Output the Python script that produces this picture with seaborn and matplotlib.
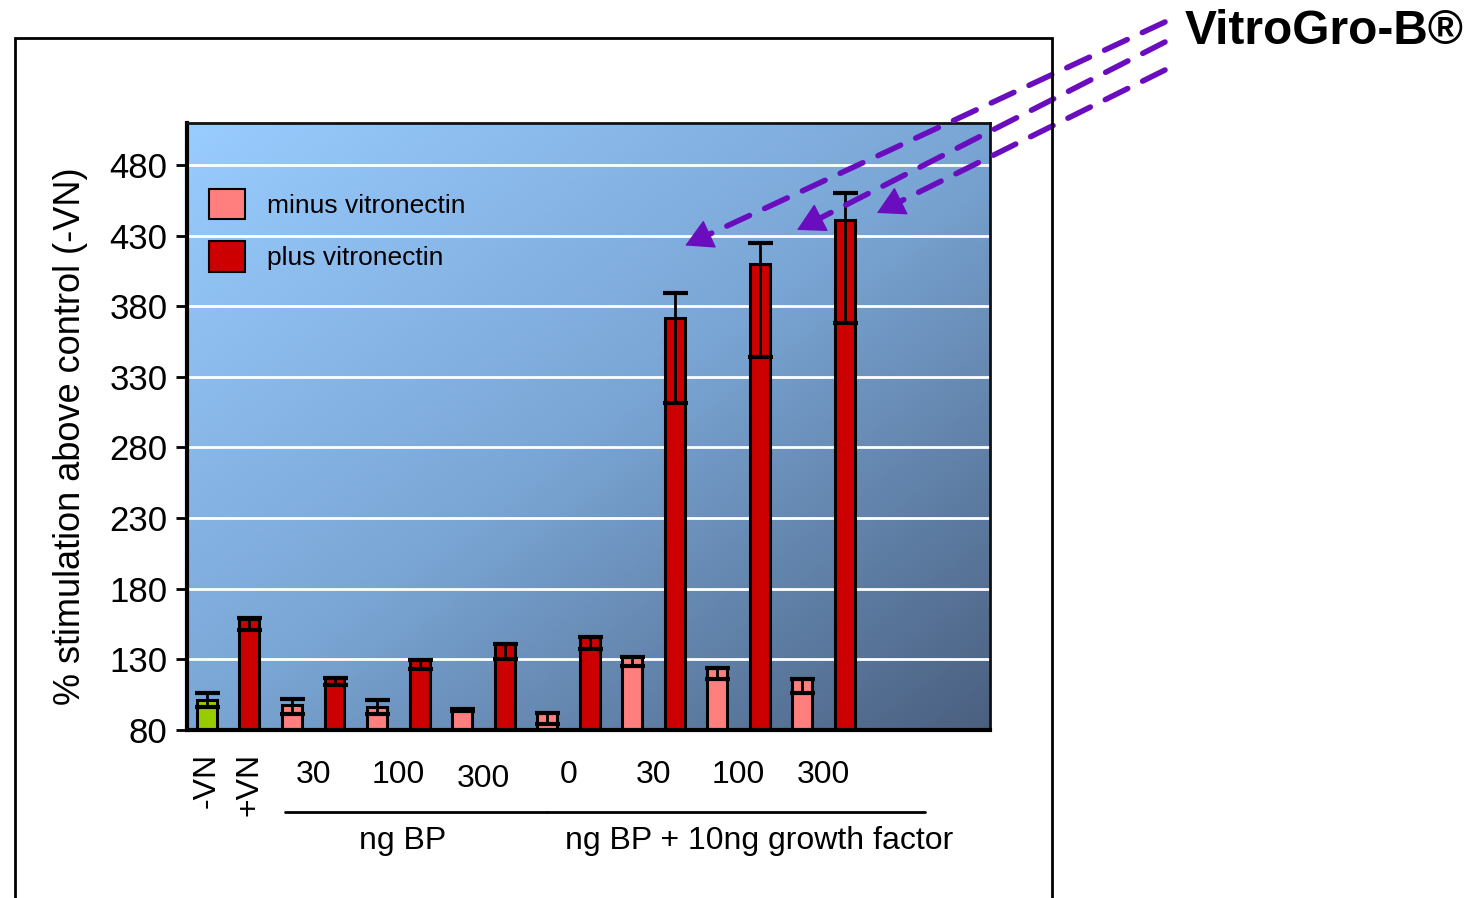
import numpy as np
import pandas as pd
import matplotlib
matplotlib.use("Agg")
import matplotlib.pyplot as plt
from matplotlib.patches import Rectangle, Patch
from matplotlib.colors import LinearSegmentedColormap
import seaborn as sns

# ---------------- data ----------------
bar_ids = ["-VN", "+VN",
           "BP30-", "BP30+", "BP100-", "BP100+", "BP300-", "BP300+",
           "GF0-", "GF0+", "GF30-", "GF30+", "GF100-", "GF100+", "GF300-", "GF300+"]
bar_tops = [101, 158.6, 98, 117, 96, 129.5, 94.5, 141, 92, 146, 132, 372, 124, 410, 116, 441]
err_low = [96, 151, 91, 112, 91, 123, 93.5, 130, 84, 137, 125, 311.5, 116, 344, 106, 368]
err_high = [106, 159, 102, 117, 101, 129.5, 95, 141, 92, 146, 132, 389.5, 124, 425, 116, 460]
bar_kind = ["ctrl", "plus", "minus", "plus", "minus", "plus", "minus", "plus",
            "minus", "plus", "minus", "plus", "minus", "plus", "minus", "plus"]

dose_labels = ["30", "100", "300", "0", "30", "100", "300"]
group_labels = ["ng BP", "ng BP + 10ng growth factor"]
legend_labels = ["minus vitronectin", "plus vitronectin"]
y_ticks = [80, 130, 180, 230, 280, 330, 380, 430, 480]
title_text = "VitroGro-B\u00ae"
y_label = "% stimulation above control (-VN)"

kind_colors = {"ctrl": "#99CC00", "minus": "#FF7F7F", "plus": "#CC0000"}

df = pd.DataFrame({"bar": bar_ids, "value": bar_tops, "kind": bar_kind})

# ---------------- figure ----------------
sns.set_theme(style="white")
plt.rcParams["font.family"] = ["Liberation Sans", "DejaVu Sans"]
plt.rcParams["text.color"] = "black"
plt.rcParams["axes.labelcolor"] = "black"
plt.rcParams["xtick.color"] = "black"
plt.rcParams["ytick.color"] = "black"

fig = plt.figure(figsize=(14.79, 8.98), dpi=100)
ax = fig.add_axes([187 / 1479, 1 - 730 / 898, (990 - 187) / 1479, (730 - 123) / 898])

# diagonal gradient background (light top-left -> dark bottom-right)
grad_cmap = LinearSegmentedColormap.from_list("bg", ["#99CCFF", "#7AA6D5", "#4A6080"])
gx, gy = np.meshgrid(np.linspace(0, 1, 300), np.linspace(0, 1, 300))
gval = (gx + gy) / 2
ax.imshow(gval, cmap=grad_cmap, extent=(-0.47, 18.42, 80, 509.7), origin="upper",
          aspect="auto", zorder=0, vmin=0, vmax=1)

palette = {b: kind_colors[k] for b, k in zip(bar_ids, bar_kind)}
sns.barplot(data=df, x="bar", y="value", hue="bar", order=bar_ids, palette=palette,
            legend=False, width=0.47, edgecolor="black", linewidth=2.2, saturation=1,
            ax=ax, zorder=2)

pos = np.arange(len(bar_ids))
tops = np.array(bar_tops)
yerr = [tops - np.array(err_low), np.array(err_high) - tops]
ax.errorbar(pos, tops, yerr=yerr, fmt="none", ecolor="black", elinewidth=2,
            capsize=9, capthick=3, zorder=3)

ax.set_xlim(-0.47, 18.42)
ax.set_ylim(80, 509.7)
ax.set_yticks(y_ticks)
ax.set_yticklabels([str(t) for t in y_ticks], fontsize=25)
ax.set_xticks([])
ax.set_xlabel("")
ax.set_ylabel(y_label, fontsize=26)
ax.yaxis.set_label_coords(-0.123, 0.484)
ax.tick_params(axis="y", direction="out", length=8, width=2, pad=6, left=True, color="black")
for t in y_ticks[1:]:
    ax.axhline(t, color="white", lw=2, zorder=1)

for side in ["left", "bottom"]:
    ax.spines[side].set_linewidth(3)
    ax.spines[side].set_color("black")
for side in ["top", "right"]:
    ax.spines[side].set_linewidth(2)
    ax.spines[side].set_color("#111111")
    ax.spines[side].set_visible(True)

# legend
handles = [Patch(facecolor=kind_colors["minus"], edgecolor="black", lw=1.5),
           Patch(facecolor=kind_colors["plus"], edgecolor="black", lw=1.5)]
ax.legend(handles, legend_labels, loc="upper left", bbox_to_anchor=(0.027, 0.892),
          frameon=False, fontsize=19, handlelength=1.36, handleheight=1.4,
          handletextpad=0.85, labelspacing=0.85, borderpad=0, borderaxespad=0)

# x labels
trans = ax.get_xaxis_transform()
ax.text(0, -0.038, "-VN", transform=trans, rotation=90, ha="center", va="top", fontsize=23)
ax.text(1, -0.038, "+VN", transform=trans, rotation=90, ha="center", va="top", fontsize=23)
dose_pos = [2.5, 4.5, 6.5, 8.5, 10.5, 12.5, 14.5]
for i, (p, lab) in enumerate(zip(dose_pos, dose_labels)):
    yy = -0.05 if i != 2 else -0.056
    ax.text(p, yy, lab, transform=trans, ha="center", va="top", fontsize=23)
ax.plot([1.83, 8.0], [-0.135, -0.135], transform=trans, color="black", lw=2, clip_on=False)
ax.plot([8.0, 16.9], [-0.135, -0.135], transform=trans, color="black", lw=2, clip_on=False)
ax.text(4.6, -0.158, group_labels[0], transform=trans, ha="center", va="top", fontsize=23)
ax.text(13.0, -0.158, group_labels[1], transform=trans, ha="center", va="top", fontsize=23)

# outer frame
fig.patches.append(Rectangle((15 / 1479, -0.05), (1052 - 15) / 1479, 1.05 - 38 / 898,
                             transform=fig.transFigure, fill=False, edgecolor="black",
                             lw=2, zorder=0))

# title and arrows
fig.text(1185 / 1479, 1 - 31 / 898, title_text, fontsize=34.5, fontweight="bold",
         ha="left", va="center")
arrow_color = "#6A0DBF"
tails = [(1165 / 1479, 1 - 22 / 898), (1165 / 1479, 1 - 42 / 898), (1165 / 1479, 1 - 70 / 898)]
tips = [(11.25, 423), (13.88, 434), (15.76, 446)]
to_data = ax.transData.inverted()
for tail, tip in zip(tails, tips):
    tail_px = fig.transFigure.transform(tail)
    tip_px = ax.transData.transform(tip)
    vec = tip_px - tail_px
    unit = vec / np.hypot(*vec)
    head_start_px = tip_px - unit * 26
    line_end_px = tip_px - unit * 14
    # dashed shaft
    ax.annotate("", xy=to_data.transform(line_end_px), xycoords="data",
                xytext=tail, textcoords="figure fraction",
                arrowprops=dict(arrowstyle="-", color=arrow_color, lw=4,
                                linestyle=(0, (4.5, 3)), shrinkA=0, shrinkB=0),
                annotation_clip=False, zorder=5)
    # solid head
    ax.annotate("", xy=tip, xycoords="data",
                xytext=to_data.transform(head_start_px), textcoords="data",
                arrowprops=dict(arrowstyle="-|>,head_length=0.9,head_width=0.5",
                                mutation_scale=20, color=arrow_color, lw=1,
                                shrinkA=0, shrinkB=0),
                annotation_clip=False, zorder=5)

fig.savefig("out.png", dpi=100)
